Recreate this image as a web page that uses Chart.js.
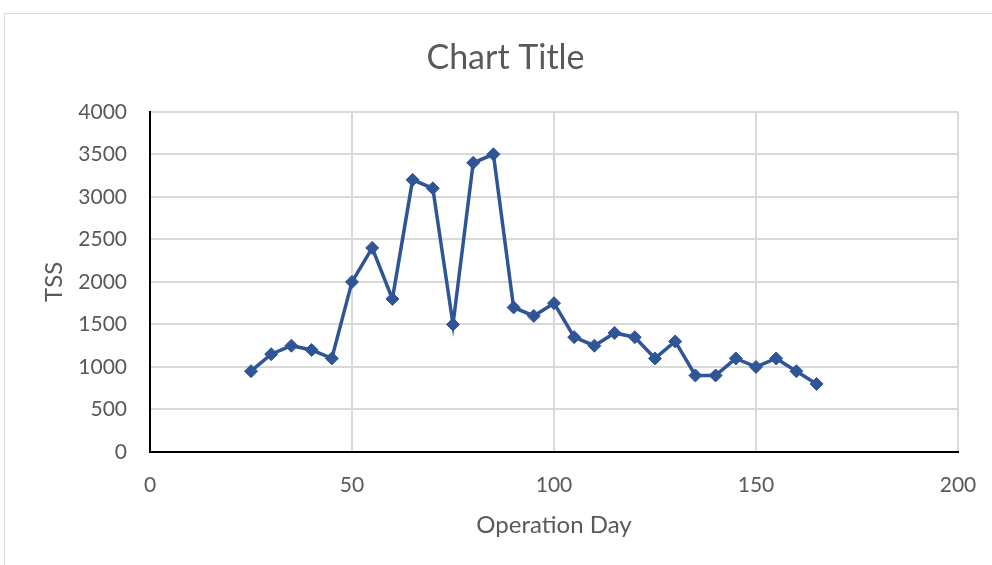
<!DOCTYPE html>
<html>
<head>
<meta charset="utf-8">
<script src="https://cdn.jsdelivr.net/npm/chart.js@4/dist/chart.umd.min.js"></script>
<style>
html,body{margin:0;padding:0;background:#fff;}
#wrap{position:absolute;left:0;top:0;width:992px;height:565px;}
</style>
</head>
<body>
<div id="wrap"><canvas id="c" width="992" height="565"></canvas></div>
<script>
const days = [25,30,35,40,45,50,55,60,65,70,75,80,85,90,95,100,105,110,115,120,125,130,135,140,145,150,155,160,165];
const tss  = [950,1150,1250,1200,1100,2000,2400,1800,3200,3100,1500,3400,3500,1700,1600,1750,1350,1250,1400,1350,1100,1300,900,900,1100,1000,1100,950,800];
const chartTitle = 'Chart Title';
const xTitle = 'Operation Day';
const yTitle = 'TSS';

const FONT = 'Lato, "Open Sans", sans-serif';
const GREY = '#595959';

const framePlugin = {
  id: 'frame',
  beforeDraw(chart) {
    const ctx = chart.ctx;
    ctx.save();
    ctx.fillStyle = '#fff';
    ctx.fillRect(0, 0, chart.width, chart.height);
    ctx.strokeStyle = '#d9d9d9';
    ctx.lineWidth = 1;
    ctx.strokeRect(4.5, 13.5, 1100, 700);
    ctx.restore();
  }
};

new Chart(document.getElementById('c'), {
  type: 'line',
  data: {
    datasets: [{
      data: days.map((d, i) => ({x: d, y: tss[i]})),
      borderColor: '#2F5597',
      backgroundColor: '#2F5597',
      borderWidth: 3.5,
      pointStyle: 'rectRot',
      pointRadius: 6.5,
      pointHoverRadius: 6.5,
      pointBorderWidth: 1,
      tension: 0,
      fill: false,
      yAxisID: 'y'
    }]
  },
  options: {
    responsive: false,
    animation: false,
    devicePixelRatio: 1,
    layout: {padding: {left: 19, right: 0, top: 0, bottom: 0}},
    plugins: {
      legend: {display: false},
      tooltip: {enabled: false},
      title: {
        display: true,
        text: chartTitle,
        color: GREY,
        font: {family: FONT, size: 34, weight: 'normal', lineHeight: 1.2},
        padding: {top: 38, bottom: 33}
      }
    },
    scales: {
      x: {
        type: 'linear',
        min: 0, max: 200,
        ticks: {stepSize: 50, color: GREY, font: {family: FONT, size: 21}, padding: 0},
        grid: {color: '#d9d9d9', lineWidth: 2, drawTicks: true, tickLength: 21, tickColor: 'rgba(0,0,0,0)'},
        border: {color: '#000', width: 2},
        title: {display: true, text: xTitle, color: GREY, font: {family: FONT, size: 24, lineHeight: 1.2}, padding: {top: 0, bottom: 25.6}},
        afterFit(scale) { scale.height = 113; }
      },
      y: {
        min: 0, max: 4000,
        ticks: {stepSize: 500, color: GREY, font: {family: FONT, size: 21}, padding: 0,
                callback: (v) => String(v)},
        grid: {color: '#d9d9d9', lineWidth: 2, drawTicks: true, tickLength: 23, tickColor: 'rgba(0,0,0,0)'},
        border: {color: '#000', width: 2},
        title: {display: true, text: yTitle, color: GREY, font: {family: FONT, size: 24, lineHeight: 1.2}, padding: {top: 20.6, bottom: 0}},
        afterFit(scale) { scale.width = 131; }
      },
      yR: {
        position: 'right',
        display: true,
        min: 0, max: 4000,
        ticks: {display: false},
        grid: {display: false, drawTicks: false},
        border: {display: false},
        afterFit(scale) { scale.width = 34; }
      }
    }
  },
  plugins: [framePlugin]
});
</script>
</body>
</html>
